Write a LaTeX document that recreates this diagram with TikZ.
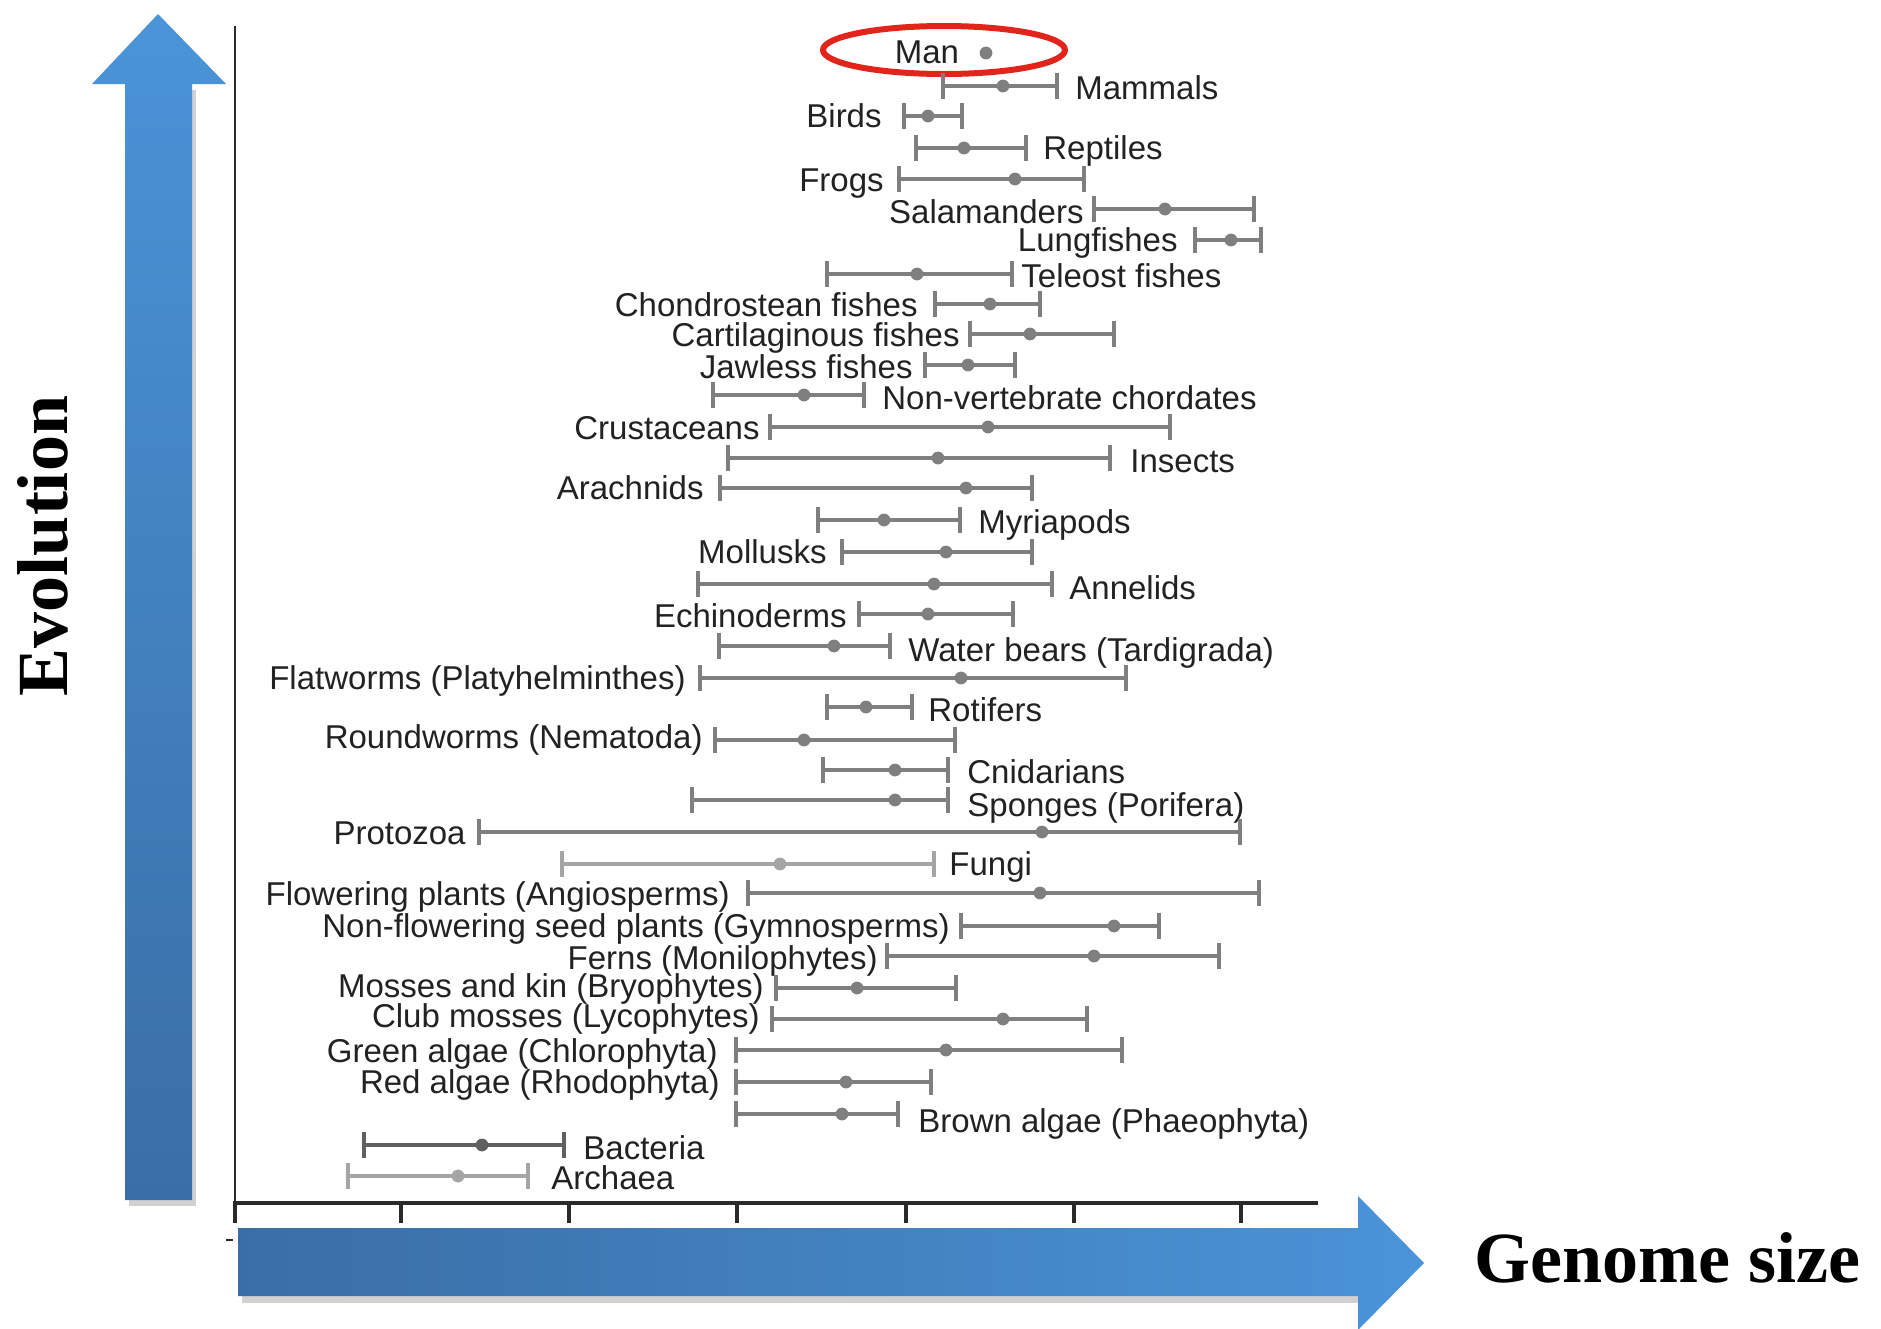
\documentclass[tikz,border=0pt]{standalone}
\usepackage{fontspec}
\setmainfont{Liberation Serif}
\newfontfamily\labfont{Liberation Sans}
\definecolor{barc}{HTML}{7F7F7F}
\definecolor{barl}{HTML}{A5A5A5}
\definecolor{bard}{HTML}{606060}
\definecolor{txt}{HTML}{222222}
\definecolor{axc}{HTML}{2A2A2A}
\definecolor{blueA}{HTML}{4A94D8}
\definecolor{blueB}{HTML}{3A6EA6}
\definecolor{manred}{HTML}{E1251B}
\tikzset{
 lab/.style={font=\labfont\fontsize{16.5}{18}\selectfont, text=txt, inner sep=0pt},
 big/.style={font=\bfseries\fontsize{36}{40}\selectfont, text=black, inner sep=0pt},
 barline/.style={line width=2.1pt},
 capline/.style={line width=1.9pt},
 axisline/.style={axc, line width=1.4pt},
 tickline/.style={axc, line width=1.6pt},
 arrshadow/.style={fill=black, opacity=0.18},
}
\newcommand\ebar[5][barc]{%
  \draw[barline,#1] (#2,#5) -- (#4,#5);
  \draw[capline,#1] (#2,#5-13) -- (#2,#5+13) (#4,#5-13) -- (#4,#5+13);
  \fill[#1] (#3,#5) circle (3.2pt);}
\newcommand\labR[4]{\node[lab,anchor=base west] (#1) at (#2,#3+11) {#4};}
\newcommand\labL[4]{\node[lab,anchor=base east] (#1) at (#2,#3+11) {#4};}
\begin{document}
\begin{tikzpicture}[x=0.5pt,y=-0.5pt]
\useasboundingbox[fill=white] (0,0) rectangle (1881,1329);
% axes
\coordinate (otop) at (235,26);
\coordinate (o) at (235,1203);
\coordinate (xend) at (1318,1203);
\draw[axisline] (otop) -- (o);
\draw[axc, line width=2.2pt] (233,1203) -- (xend);
\foreach \tx in {235,401,569,737,906,1074,1241}
  \draw[tickline] (\tx,1203) -- (\tx,1223);
\coordinate (d1) at (226,1240);
\coordinate (d2) at (233,1240);
\draw[axc, line width=1.3pt] (d1) -- (d2);
% Man
\node[lab] (man) at (927,52) {Man};
\fill[barc] (986,53) circle (3.2pt);
\draw[manred, line width=3pt] (944,50) ellipse [x radius=60.5pt, y radius=12pt];
% rows
\ebar{943}{1003}{1057}{86} \labR{mam}{1075}{88}{Mammals}
\labL{bir}{882}{116}{Birds} \ebar{904}{928}{962}{116}
\ebar{916}{964}{1026}{148} \labR{rep}{1043}{148}{Reptiles}
\labL{fro}{884}{180}{Frogs} \ebar{899}{1015}{1084}{179}
\labL{sal}{1084}{212}{Salamanders} \ebar{1094}{1165}{1254}{209}
\labL{lun}{1178}{240}{Lungfishes} \ebar{1195}{1231}{1261}{240}
\ebar{827}{917}{1012}{274} \labR{tel}{1021}{276}{Teleost fishes}
\labL{cho}{918}{305}{Chondrostean fishes} \ebar{935}{990}{1040}{304}
\labL{car}{960}{335}{Cartilaginous fishes} \ebar{970}{1030}{1114}{334}
\labL{jaw}{913}{367}{Jawless fishes} \ebar{925}{968}{1015}{365}
\ebar{713}{804}{864}{395} \labR{nvc}{882}{398}{Non-vertebrate chordates}
\labL{cru}{760}{428}{Crustaceans} \ebar{770}{988}{1170}{427}
\ebar{728}{938}{1110}{458} \labR{ins}{1130}{461}{Insects}
\labL{ara}{704}{488}{Arachnids} \ebar{720}{966}{1032}{488}
\ebar{818}{884}{960}{520} \labR{myr}{978}{522}{Myriapods}
\labL{mol}{827}{552}{Mollusks} \ebar{842}{946}{1032}{552}
\ebar{698}{934}{1052}{584} \labR{ann}{1069}{588}{Annelids}
\labL{ech}{847}{616}{Echinoderms} \ebar{859}{928}{1013}{614}
\ebar{719}{834}{890}{646} \labR{wat}{908}{650}{Water bears (Tardigrada)}
\labL{fla}{686}{678}{Flatworms (Platyhelminthes)} \ebar{700}{961}{1126}{678}
\ebar{827}{866}{912}{707} \labR{rot}{928}{710}{Rotifers}
\labL{rou}{703}{737}{Roundworms (Nematoda)} \ebar{715}{804}{955}{740}
\ebar{823}{895}{948}{770} \labR{cni}{967}{772}{Cnidarians}
\ebar{692}{895}{948}{800} \labR{spo}{967}{805}{Sponges (Porifera)}
\labL{pro}{466}{833}{Protozoa} \ebar{479}{1042}{1240}{832}
\ebar[barl]{562}{780}{934}{864} \labR{fun}{949}{864}{Fungi}
\labL{flo}{730}{894}{Flowering plants (Angiosperms)} \ebar{748}{1040}{1259}{893}
\labL{nfl}{950}{926}{Non-flowering seed plants (Gymnosperms)} \ebar{961}{1114}{1159}{926}
\labL{fer}{878}{958}{Ferns (Monilophytes)} \ebar{887}{1094}{1219}{956}
\labL{mos}{764}{986}{Mosses and kin (Bryophytes)} \ebar{776}{857}{956}{988}
\labL{clu}{760}{1016}{Club mosses (Lycophytes)} \ebar{772}{1003}{1087}{1019}
\labL{gre}{718}{1051}{Green algae (Chlorophyta)} \ebar{736}{946}{1122}{1050}
\labL{red}{720}{1082}{Red algae (Rhodophyta)} \ebar{736}{846}{931}{1082}
\ebar{736}{842}{898}{1114} \labR{bro}{918}{1121}{Brown algae (Phaeophyta)}
\ebar[bard]{364}{482}{564}{1145} \labR{bac}{583}{1148}{Bacteria}
\ebar[barl]{348}{458}{528}{1176} \labR{arc}{551}{1178}{Archaea}
% big arrows (soft shadows first)
\fill[arrshadow] (129,1206) -- (129,90) -- (196,90) -- (196,1206) -- cycle;
\fill[arrshadow] (242,1235) -- (1362,1235) -- (1362,1303) -- (242,1303) -- cycle;
\shade[top color=blueA, bottom color=blueB]
  (125,1200) -- (125,84) -- (92,84) -- (158,14) -- (226,84) -- (192,84) -- (192,1200) -- cycle;
\shade[left color=blueB, right color=blueA]
  (238,1228) -- (1358,1228) -- (1358,1196) -- (1424,1263) -- (1358,1330) -- (1358,1296) -- (238,1296) -- cycle;
% titles
\node[big, rotate=90, anchor=base] (evo) at (68,546) {Evolution};
\node[big, anchor=base west] (gen) at (1474,1282) {Genome size};
\end{tikzpicture}
\end{document}
